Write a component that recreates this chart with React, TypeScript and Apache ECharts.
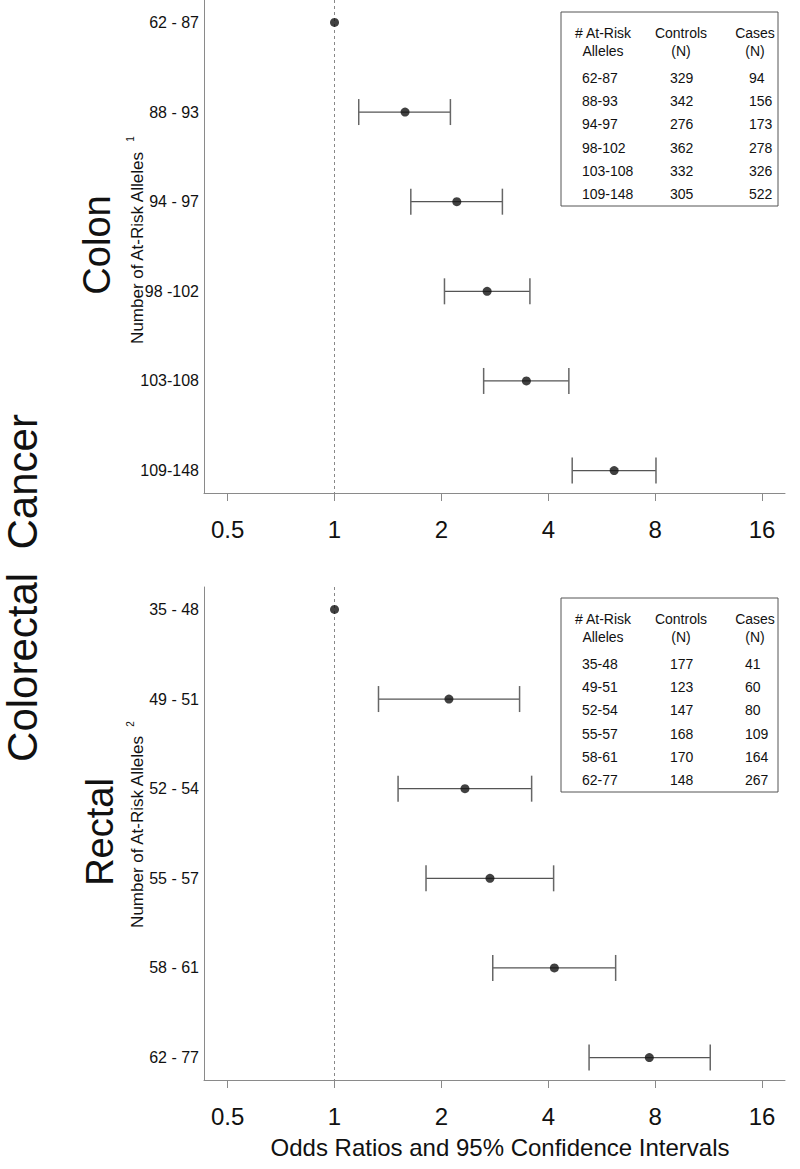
import React, { useEffect, useRef } from "react";
import * as echarts from "echarts";

// ---------- Data ----------
const colonCategories = ["62 - 87", "88 - 93", "94 - 97", "98 -102", "103-108", "109-148"];
const colonOR = [1.0, 1.58, 2.21, 2.69, 3.47, 6.13];
const colonLower = [1.0, 1.17, 1.64, 2.04, 2.63, 4.67];
const colonUpper = [1.0, 2.12, 2.97, 3.55, 4.57, 8.04];

const rectalCategories = ["35 - 48", "49 - 51", "52 - 54", "55 - 57", "58 - 61", "62 - 77"];
const rectalOR = [1.0, 2.1, 2.33, 2.74, 4.16, 7.7];
const rectalLower = [1.0, 1.33, 1.51, 1.81, 2.79, 5.21];
const rectalUpper = [1.0, 3.32, 3.59, 4.14, 6.19, 11.43];

const xTickValues = [0.5, 1, 2, 4, 8, 16];
const xRangeMin = 0.429;
const xRangeMax = 18.56;

const colonTableAlleles = ["62-87", "88-93", "94-97", "98-102", "103-108", "109-148"];
const colonTableControls = ["329", "342", "276", "362", "332", "305"];
const colonTableCases = ["94", "156", "173", "278", "326", "522"];

const rectalTableAlleles = ["35-48", "49-51", "52-54", "55-57", "58-61", "62-77"];
const rectalTableControls = ["177", "123", "147", "168", "170", "148"];
const rectalTableCases = ["41", "60", "80", "109", "164", "267"];

const tableHeaders = [
  ["# At-Risk", "Alleles"],
  ["Controls", "(N)"],
  ["Cases", "(N)"],
];

// ---------- Styling / layout ----------
const FONT = '"Liberation Sans", Arial, Helvetica, sans-serif';
const AXIS_COLOR = "#8a8a8a";
const TEXT_COLOR = "#111";
const GRID_LEFT = 204;
const GRID_WIDTH = 581;
const GRID_HEIGHT = 493;
const GRID_TOPS = [0, 587];

function txt(x: number, y: number, text: string, size: number, align = "left", extra: any = {}) {
  return {
    type: "text",
    x,
    y,
    silent: true,
    ...extra,
    style: {
      text,
      fontSize: size,
      fontFamily: FONT,
      fill: TEXT_COLOR,
      align,
      verticalAlign: "middle",
      textAlign: align,
      textVerticalAlign: "middle",
    },
  };
}

function buildTable(top: number, alleles: string[], controls: string[], cases: string[], col3Left: number) {
  const children: any[] = [];
  children.push({
    type: "rect",
    silent: true,
    shape: { x: 561, y: top, width: 217, height: 194 },
    style: { fill: "#fff", stroke: "#555", lineWidth: 1 },
  });
  const headerCenters = [603, 681, 755];
  tableHeaders.forEach((h, c) => {
    children.push(txt(headerCenters[c], top + 21, h[0], 14, "center"));
    children.push(txt(headerCenters[c], top + 39, h[1], 14, "center"));
  });
  alleles.forEach((a, i) => {
    const y = top + 66 + i * 23.2;
    children.push(txt(582, y, a, 14, "left"));
    children.push(txt(670, y, controls[i], 14, "left"));
    children.push(txt(col3Left, y, cases[i], 14, "left"));
  });
  return children;
}

function buildAxes(gridIndex: number, cats: string[]) {
  const log2 = (v: number) => Math.log2(v);
  const xAxis = {
    type: "value",
    gridIndex,
    min: log2(xRangeMin),
    max: log2(xRangeMax),
    axisLine: { show: true, onZero: false, lineStyle: { color: AXIS_COLOR, width: 1 } },
    axisTick: {
      show: true,
      length: 8,
      lineStyle: { color: AXIS_COLOR, width: 1 },
      customValues: xTickValues.map(log2),
    },
    axisLabel: {
      customValues: xTickValues.map(log2),
      formatter: (v: number) => String(Math.round(Math.pow(2, v) * 1000) / 1000),
      fontSize: 24,
      fontFamily: FONT,
      color: TEXT_COLOR,
      margin: 24,
    },
    splitLine: { show: false },
  };
  const yAxis = {
    type: "value",
    gridIndex,
    inverse: true,
    min: -0.25,
    max: 5.25,
    axisLine: { show: true, onZero: false, lineStyle: { color: AXIS_COLOR, width: 1 } },
    axisTick: { show: false },
    axisLabel: {
      customValues: cats.map((_, i) => i),
      formatter: (v: number) => cats[Math.round(v)] ?? "",
      fontSize: 16,
      fontFamily: FONT,
      color: TEXT_COLOR,
      margin: 5,
    },
    splitLine: { show: false },
  };
  return { xAxis, yAxis };
}

function buildSeries(idx: number, or: number[], lo: number[], hi: number[]) {
  const errData = or
    .map((_, i) => [Math.log2(lo[i]), Math.log2(hi[i]), i])
    .filter((d) => d[0] !== d[1]);
  const errSeries = {
    type: "custom",
    xAxisIndex: idx,
    yAxisIndex: idx,
    silent: true,
    encode: { x: [0, 1], y: 2 },
    data: errData,
    z: 3,
    renderItem: (params: any, api: any) => {
      const y = api.value(2);
      const p1 = api.coord([api.value(0), y]);
      const p2 = api.coord([api.value(1), y]);
      const h = 13;
      return {
        type: "group",
        children: [
          { type: "line", shape: { x1: p1[0], y1: p1[1], x2: p2[0], y2: p2[1] }, style: { stroke: "#555", lineWidth: 1.2 } },
          { type: "line", shape: { x1: p1[0], y1: p1[1] - h, x2: p1[0], y2: p1[1] + h }, style: { stroke: "#666", lineWidth: 1.5 } },
          { type: "line", shape: { x1: p2[0], y1: p2[1] - h, x2: p2[0], y2: p2[1] + h }, style: { stroke: "#666", lineWidth: 1.5 } },
        ],
      };
    },
  };
  const pointSeries = {
    type: "scatter",
    xAxisIndex: idx,
    yAxisIndex: idx,
    silent: true,
    symbol: "circle",
    symbolSize: 9,
    itemStyle: { color: "#111" },
    z: 4,
    data: or.map((v, i) => [Math.log2(v), i]),
    markLine: {
      silent: true,
      symbol: ["none", "none"],
      label: { show: false },
      lineStyle: { type: [3, 3], color: "#888", width: 1 },
      data: [{ xAxis: 0 }],
      z: 1,
    },
  };
  return [errSeries, pointSeries];
}

export default function App() {
  const ref = useRef<HTMLDivElement>(null);

  useEffect(() => {
    if (!ref.current) return;
    const chart = echarts.init(ref.current, undefined, { renderer: "svg" });
    const a0 = buildAxes(0, colonCategories);
    const a1 = buildAxes(1, rectalCategories);

    const graphics: any[] = [
      txt(22, 588, "Colorectal  Cancer", 42, "center", { rotation: Math.PI / 2 }),
      txt(97, 245, "Colon", 38, "center", { rotation: Math.PI / 2 }),
      txt(137, 248, "Number of At-Risk Alleles", 17, "center", { rotation: Math.PI / 2 }),
      txt(130, 139, "1", 10, "center", { rotation: Math.PI / 2 }),
      txt(100, 832, "Rectal", 38, "center", { rotation: Math.PI / 2 }),
      txt(137, 832, "Number of At-Risk Alleles", 17, "center", { rotation: Math.PI / 2 }),
      txt(130, 724, "2", 10, "center", { rotation: Math.PI / 2 }),
      txt(500, 1147, "Odds Ratios and 95% Confidence Intervals", 24, "center"),
      ...buildTable(12, colonTableAlleles, colonTableControls, colonTableCases, 749),
      ...buildTable(598, rectalTableAlleles, rectalTableControls, rectalTableCases, 745),
    ];

    chart.setOption({
      animation: false,
      backgroundColor: "#fff",
      grid: GRID_TOPS.map((top) => ({
        left: GRID_LEFT,
        top,
        width: GRID_WIDTH,
        height: GRID_HEIGHT,
        containLabel: false,
      })),
      xAxis: [a0.xAxis, a1.xAxis],
      yAxis: [a0.yAxis, a1.yAxis],
      series: [
        ...buildSeries(0, colonOR, colonLower, colonUpper),
        ...buildSeries(1, rectalOR, rectalLower, rectalUpper),
      ],
      graphic: { elements: graphics },
    });
    return () => chart.dispose();
  }, []);

  return (
    <div
      ref={ref}
      style={{ position: "absolute", left: 0, top: 0, width: 800, height: 1169, background: "#fff" }}
    />
  );
}
